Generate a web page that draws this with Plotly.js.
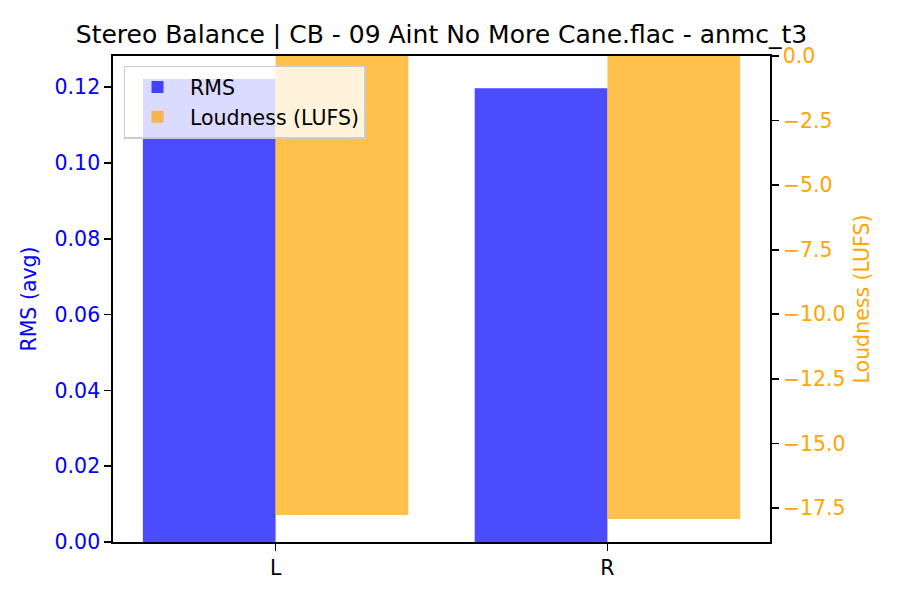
<!DOCTYPE html>
<html>
<head>
<meta charset="utf-8">
<script src="https://cdn.plot.ly/plotly-3.0.1.min.js"></script>
<style>
  html, body { margin: 0; padding: 0; background: #fff; }
  #chart { width: 900px; height: 600px; }
</style>
</head>
<body>
<div id="chart"></div>
<script>
var channels = ['L', 'R'];
var rmsValues = [0.1221, 0.1197];
var loudnessValues = [-17.77, -17.93];
var rmsTicks = [0, 0.02, 0.04, 0.06, 0.08, 0.10, 0.12];
var loudTicks = [0, -2.5, -5, -7.5, -10, -12.5, -15, -17.5];

function fmtMinus(v, d) {
  var s = Math.abs(v).toFixed(d);
  return (v < 0 ? '\u2212' : '') + s;
}

var font = 'DejaVu Sans, sans-serif';

var rms = {
  x: channels,
  y: rmsValues,
  type: 'bar',
  name: 'RMS',
  width: 0.4,
  offset: -0.4,
  marker: { color: 'rgba(0,0,255,0.7)' },
  yaxis: 'y'
};

var loud = {
  x: channels,
  y: loudnessValues,
  type: 'bar',
  name: 'Loudness (LUFS)',
  width: 0.4,
  offset: 0,
  marker: { color: 'rgba(255,165,0,0.7)' },
  yaxis: 'y2'
};

var layout = {
  width: 900,
  height: 600,
  paper_bgcolor: '#fff',
  plot_bgcolor: '#fff',
  margin: { l: 113, r: 130, t: 56, b: 58, pad: 0 },
  barmode: 'overlay',
  font: { family: font, size: 21, color: '#000' },
  title: {
    text: 'Stereo Balance | CB - 09 Aint No More Cane.flac - anmc_t3',
    font: { family: font, size: 25, color: '#000' },
    x: 0.5, xref: 'paper', xanchor: 'center',
    y: 1, yref: 'paper', yanchor: 'bottom', pad: { b: 13 }
  },
  xaxis: {
    type: 'category',
    range: [-0.49, 1.49],
    showgrid: false, zeroline: false,
    showline: true, linecolor: '#000', linewidth: 1.7, mirror: true,
    ticks: 'outside', ticklen: 7, tickwidth: 1.7, tickcolor: '#000',
    tickfont: { family: font, size: 20.5, color: '#000' }
  },
  yaxis: {
    range: [0, 0.1282],
    tickvals: rmsTicks,
    ticktext: rmsTicks.map(function (v) { return v.toFixed(2); }),
    showgrid: false, zeroline: false,
    showline: true, linecolor: '#000', linewidth: 1.7,
    ticks: 'outside', ticklen: 7, tickwidth: 1.7, tickcolor: '#000',
    tickfont: { family: font, size: 20.5, color: 'blue' },
    title: { text: 'RMS (avg)', font: { family: font, size: 20.5, color: 'blue' }, standoff: 12 }
  },
  yaxis2: {
    overlaying: 'y',
    side: 'right',
    range: [-18.82, 0],
    tickvals: loudTicks,
    ticktext: loudTicks.map(function (v) { return fmtMinus(v, 1); }),
    showgrid: false, zeroline: false,
    showline: true, linecolor: '#000', linewidth: 1.7,
    ticks: 'outside', ticklen: 7, tickwidth: 1.7, tickcolor: '#000',
    tickfont: { family: font, size: 20.5, color: 'orange' },
    title: { text: 'Loudness (LUFS)', font: { family: font, size: 20.5, color: 'orange' }, standoff: 10 }
  },
  showlegend: true,
  legend: {
    x: 0.016, y: 0.98, xanchor: 'left', yanchor: 'top',
    bgcolor: 'rgba(255,255,255,0.8)',
    bordercolor: '#cccccc', borderwidth: 1.5,
    font: { family: font, size: 20.5, color: '#000' },
    itemwidth: 55,
    tracegroupgap: 0
  }
};

Plotly.newPlot('chart', [rms, loud], layout, { displayModeBar: false, staticPlot: true });
</script>
</body>
</html>
